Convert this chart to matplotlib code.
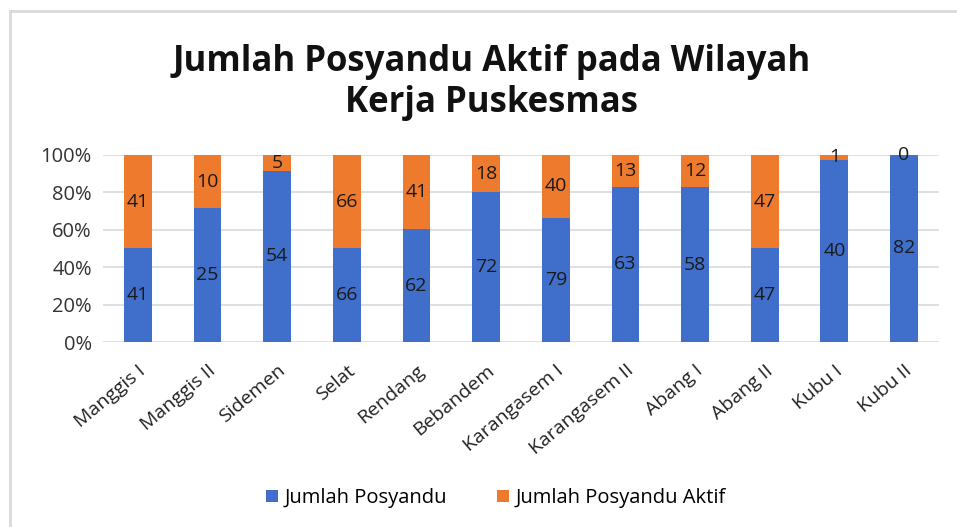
import numpy as np
import matplotlib.pyplot as plt
from matplotlib.lines import Line2D

plt.rcParams['font.family'] = ['Open Sans', 'DejaVu Sans']

# data
wilayah = ['Manggis I', 'Manggis II', 'Sidemen', 'Selat', 'Rendang', 'Bebandem',
           'Karangasem I', 'Karangasem II', 'Abang I', 'Abang II', 'Kubu I', 'Kubu II']
posyandu = [41, 25, 54, 66, 62, 72, 79, 63, 58, 47, 40, 82]
posyandu_aktif = [41, 10, 5, 66, 41, 18, 40, 13, 12, 47, 1, 0]

blue = '#3F6FCA'
orange = '#EE7A2E'

a = np.array(posyandu, dtype=float)
b = np.array(posyandu_aktif, dtype=float)
total = a + b
pa = a / total * 100
pb = b / total * 100
x = np.arange(len(wilayah))

fig = plt.figure(figsize=(9.57, 5.27), dpi=100)
ax = fig.add_axes([0.1076, 0.351, 0.8735, 0.355])

ax.bar(x, pa, width=0.4, color=blue, label='Jumlah Posyandu', zorder=2)
ax.bar(x, pb, width=0.4, bottom=pa, color=orange, label='Jumlah Posyandu Aktif', zorder=2)

for i in range(len(x)):
    ax.text(x[i], pa[i] / 2, str(posyandu[i]), ha='center', va='center', fontsize=14, color='#1a1a1a', zorder=3)
    ax.text(x[i], pa[i] + pb[i] / 2, str(posyandu_aktif[i]), ha='center', va='center', fontsize=14, color='#1a1a1a', zorder=3)

ax.set_xlim(-0.5, len(x) - 0.5)
ax.set_ylim(0, 100)
ax.set_yticks(range(0, 101, 20))
ax.set_yticklabels([f'{v}%' for v in range(0, 101, 20)], fontsize=14.5, color='#333333')
ax.set_xticks(x)
ax.set_xticklabels(wilayah, rotation=40, ha='right', rotation_mode='anchor', fontsize=14, color='#222222')
ax.tick_params(axis='x', length=0, pad=14)
ax.tick_params(axis='y', length=0, pad=8)
ax.grid(axis='y', color='#d9d9d9', linewidth=1.2, zorder=0)
for s in ax.spines.values():
    s.set_visible(False)

fig.text(0.514, 0.844, 'Jumlah Posyandu Aktif pada Wilayah\nKerja Puskesmas', ha='center', va='center',
         fontsize=25, fontweight='bold', linespacing=1.2, color='#111111')

fig.legend(loc='center', bbox_to_anchor=(0.518, 0.055), ncol=2, frameon=False, fontsize=14.5,
           handlelength=0.6, handleheight=0.6, handletextpad=0.3, columnspacing=2.5)

# chart frame (left and top edges)
fig.add_artist(Line2D([10 / 957, 10 / 957], [0, 1 - 11 / 527], transform=fig.transFigure, color='#d9d9d9', lw=2))
fig.add_artist(Line2D([10 / 957, 1], [1 - 11 / 527, 1 - 11 / 527], transform=fig.transFigure, color='#d9d9d9', lw=2))

plt.savefig('out.png', dpi=100)
